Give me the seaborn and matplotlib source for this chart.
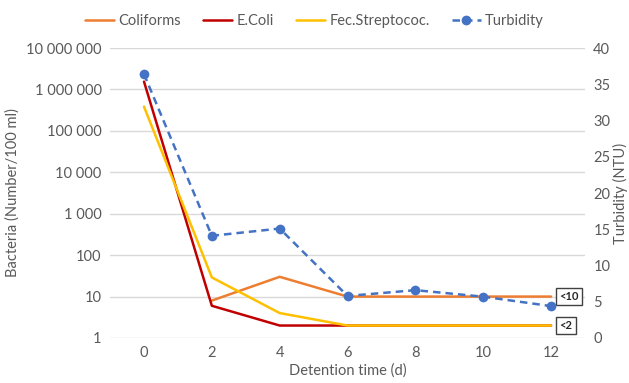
import numpy as np
import pandas as pd
import matplotlib
matplotlib.use("Agg")
import matplotlib.pyplot as plt
import matplotlib.ticker as mticker
import seaborn as sns

# Data
days = [0, 2, 4, 6, 8, 10, 12]
coliforms = [np.nan, 8, 30, 10, 10, 10, 10]
ecoli = [1550000, 6, 2, 2, 2, 2, 2]
fec_strep = [385000, 29, 4, 2, 2, 2, 2]
turbidity = [36.4, 14.1, 15.1, 5.8, 6.6, 5.7, 4.4]

colors = {"Coliforms": "#ED7D31", "E.Coli": "#C00000",
          "Fec.Streptococ.": "#FFC000", "Turbidity": "#4472C4"}
grey = "#595959"

sns.set_style("white")
plt.rcParams["font.family"] = ["Lato", "DejaVu Sans"]

bact = pd.DataFrame({"day": days, "Coliforms": coliforms, "E.Coli": ecoli,
                     "Fec.Streptococ.": fec_strep})
bact = bact.melt(id_vars="day", var_name="series", value_name="value").dropna()
turb = pd.DataFrame({"day": days, "turbidity": turbidity})

fig = plt.figure(figsize=(6.29, 3.83), dpi=100)
ax = fig.add_axes([0.175, 0.1175, 0.755, 0.757])
ax2 = ax.twinx()

sns.lineplot(data=bact, x="day", y="value", hue="series", palette=colors,
             linewidth=1.8, ax=ax, legend=False)
sns.lineplot(data=turb, x="day", y="turbidity", color=colors["Turbidity"],
             linestyle=(0, (3, 2)), linewidth=1.8, marker="o", markersize=7,
             markeredgewidth=0, ax=ax2)

ax.set_yscale("log")
ax.set_ylim(1, 1e7)
ax.set_xlim(-1, 13)
ax.set_xticks(days)
ax.yaxis.set_major_locator(mticker.LogLocator(base=10, numticks=10))
ax.yaxis.set_minor_locator(mticker.NullLocator())
ax.yaxis.set_major_formatter(mticker.FuncFormatter(
    lambda v, p: f"{int(round(v)):,}".replace(",", " ")))
ax2.set_ylim(0, 40)
ax2.set_yticks(range(0, 41, 5))

ax.grid(axis="y", color="#d9d9d9", linewidth=1)
for a in (ax, ax2):
    for s in a.spines.values():
        s.set_visible(False)
    a.tick_params(length=0, labelsize=10.5, colors=grey, pad=6)

ax.set_xlabel("Detention time (d)", color=grey, fontsize=10.5, labelpad=2)
ax2.set_xlabel("")
ax.set_ylabel("Bacteria (Number/100 ml)", color=grey, fontsize=10.5, labelpad=5)
ax2.set_ylabel("Turbidity (NTU)", color=grey, fontsize=10.5, labelpad=2)

box = dict(boxstyle="square,pad=0.3", fc="white", ec="#404040", lw=1)
ax.annotate("<10", xy=(12, 10), xytext=(6, 0), textcoords="offset points",
            ha="left", va="center", fontsize=8, fontweight="bold", bbox=box)
ax.annotate("<2", xy=(12, 2), xytext=(6, 0), textcoords="offset points",
            ha="left", va="center", fontsize=8, fontweight="bold", bbox=box)

handles = [plt.Line2D([], [], color=colors[k], lw=1.8) for k in
           ["Coliforms", "E.Coli", "Fec.Streptococ."]]
handles.append(plt.Line2D([], [], color=colors["Turbidity"], lw=1.8,
                          ls=(0, (3, 2)), marker="o", markersize=6))
leg = fig.legend(handles, ["Coliforms", "E.Coli", "Fec.Streptococ.", "Turbidity"],
                 loc="center", bbox_to_anchor=(0.5, 0.945), ncol=4, frameon=False,
                 fontsize=10.5, handlelength=2, columnspacing=1.5, handletextpad=0.3)
for t in leg.get_texts():
    t.set_color(grey)

fig.savefig("out.png", dpi=100)
